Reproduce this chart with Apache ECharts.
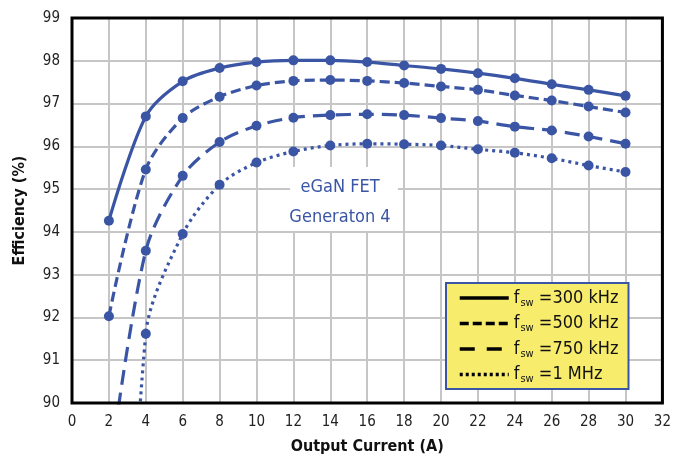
<!DOCTYPE html>
<html>
<head>
<meta charset="UTF-8">
<title>eGaN FET Efficiency</title>
<script src="https://cdn.jsdelivr.net/npm/echarts@6/dist/echarts.min.js"></script>
<style>
    html, body { margin: 0; padding: 0; background: #fff; }
    #container { width: 674px; height: 466px; }
</style>
</head>
<body>
<div id="container"></div>
<script>

    // output current (A)
    var current = [2, 4, 6, 8, 10, 12, 14, 16, 18, 20, 22, 24, 26, 28, 30];
    // efficiency (%) per switching frequency; values under 90 are off the chart
    var eff300k = [94.26, 96.70, 97.52, 97.83, 97.97, 98.01, 98.01, 97.97, 97.89, 97.81, 97.71, 97.59, 97.45, 97.32, 97.18];
    var eff500k = [92.03, 95.46, 96.66, 97.16, 97.42, 97.53, 97.55, 97.53, 97.48, 97.40, 97.32, 97.19, 97.07, 96.93, 96.79];
    var eff750k = [88.3, 93.56, 95.31, 96.10, 96.48, 96.67, 96.73, 96.75, 96.73, 96.66, 96.59, 96.46, 96.37, 96.23, 96.06];
    var eff1M   = [75.0, 91.62, 93.95, 95.10, 95.62, 95.88, 96.02, 96.06, 96.05, 96.02, 95.93, 95.85, 95.72, 95.55, 95.40];

    var xTicks = [0, 32, 2];   // min, max, step
    var yTicks = [90, 99, 1];

    var blue = '#3b55a5';
    var font = "'Liberation Sans Narrow', 'DejaVu Sans Condensed', sans-serif";

    function pairs(vals) {
        var out = [];
        for (var i = 0; i < current.length; i++) {
            out.push([current[i], vals[i]]);
        }
        return out;
    }

    function line(name, vals, dash) {
        return {
            name: name,
            type: 'line',
            data: pairs(vals),
            smooth: 0.3,
            clip: true,
            symbol: 'circle',
            symbolSize: 10,
            itemStyle: { color: blue },
            lineStyle: { color: blue, width: 3.2, type: dash },
            z: 3
        };
    }

    function legendItem(name, dash) {
        return {
            name: name,
            itemStyle: { opacity: 0 },
            lineStyle: { color: '#000', width: 3.5, type: dash, opacity: 1 }
        };
    }

    var mychart = echarts.init(document.getElementById('container'));

    var option = {
        animation: false,
        textStyle: { fontFamily: font },
        grid: {
            left: 72, right: 11, top: 18, bottom: 63,
            show: true,
            borderColor: '#000',
            borderWidth: 3,
            z: 4
        },
        xAxis: {
            type: 'value',
            min: xTicks[0], max: xTicks[1], interval: xTicks[2],
            name: 'Output Current (A)',
            nameLocation: 'middle',
            nameGap: 36,
            nameTextStyle: { fontFamily: font, fontSize: 16, fontWeight: 'bold', color: '#111' },
            axisLine: { show: false },
            axisTick: { show: false },
            axisLabel: { fontFamily: font, fontSize: 15, color: '#222', margin: 12 },
            splitLine: { lineStyle: { color: '#c6c6c6', width: 2 } }
        },
        yAxis: {
            type: 'value',
            min: yTicks[0], max: yTicks[1], interval: yTicks[2],
            name: 'Efficiency (%)',
            nameLocation: 'middle',
            nameGap: 44,
            nameTextStyle: { fontFamily: font, fontSize: 16, fontWeight: 'bold', color: '#111' },
            axisLine: { show: false },
            axisTick: { show: false },
            axisLabel: { fontFamily: font, fontSize: 15, color: '#222', margin: 12 },
            splitLine: { lineStyle: { color: '#c6c6c6', width: 2 } }
        },
        legend: {
            orient: 'vertical',
            left: 446,
            top: 283,
            padding: [6, 10, 4, 12],
            itemGap: 6,
            itemWidth: 49,
            itemHeight: 20,
            backgroundColor: '#f7ec6c',
            borderColor: blue,
            borderWidth: 2,
            borderRadius: 0,
            z: 5,
            data: [
                legendItem('300 kHz', 'solid'),
                legendItem('500 kHz', [9, 4]),
                legendItem('750 kHz', [15, 12]),
                legendItem('1 MHz', [3, 3])
            ],
            formatter: function (name) {
                return '{f|f}{sub|sw}{t| =' + name + '}';
            },
            textStyle: {
                rich: {
                    f: { fontFamily: font, fontSize: 18, color: '#111' },
                    sub: { fontFamily: font, fontSize: 11, color: '#111', padding: [10, 0, 0, 1] },
                    t: { fontFamily: font, fontSize: 18, color: '#111' }
                }
            }
        },
        graphic: [{
            type: 'rect',
            z: 2,
            shape: { x: 290, y: 167, width: 108, height: 64 },
            style: { fill: '#fff' }
        }, {
            type: 'text',
            z: 2,
            x: 340, y: 187,
            style: { text: 'eGaN FET', fill: blue, font: '18px ' + font, align: 'center', verticalAlign: 'middle' }
        }, {
            type: 'text',
            z: 2,
            x: 340, y: 217,
            style: { text: 'Generaton 4', fill: blue, font: '18px ' + font, align: 'center', verticalAlign: 'middle' }
        }],
        series: [
            line('300 kHz', eff300k, 'solid'),
            line('500 kHz', eff500k, [10, 5]),
            line('750 kHz', eff750k, [15, 8]),
            line('1 MHz', eff1M, [3, 4])
        ]
    };

    mychart.setOption(option);

</script>
</body>
</html>
